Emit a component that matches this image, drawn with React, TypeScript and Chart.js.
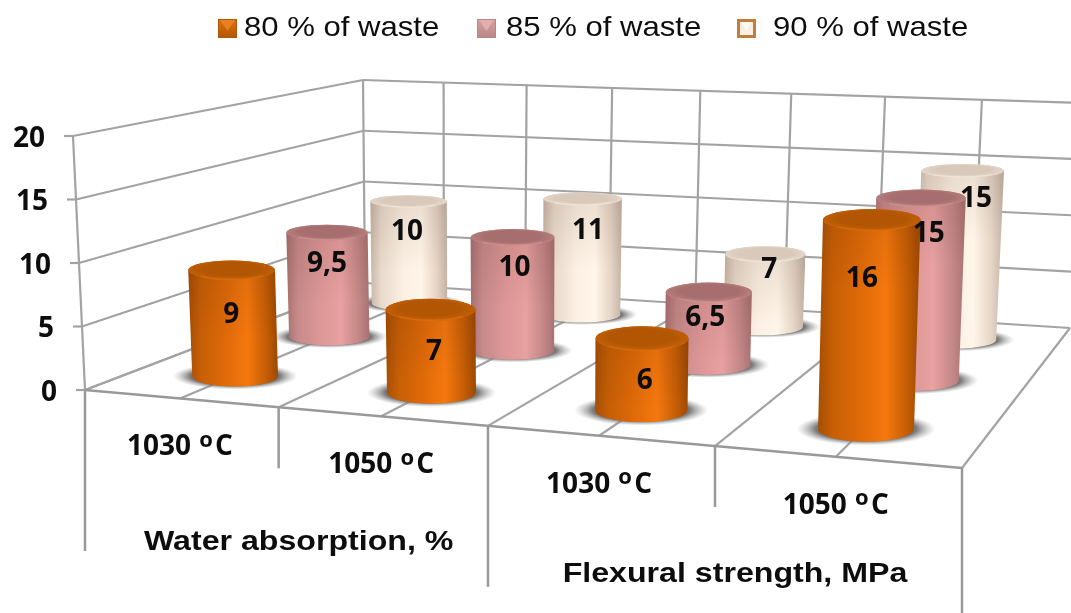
import React, { useEffect, useRef } from "react";
import { Chart, BarController, BarElement, CategoryScale, LinearScale } from "chart.js";

// ---- data ----
const temperatures = ["1030 ºC", "1050 ºC", "1030 ºC", "1050 ºC"];
const properties = ["Water absorption, %", "Flexural strength, MPa"];
const seriesNames = ["80 % of waste", "85 % of waste", "90 % of waste"];
const waste80 = [9, 7, 6, 16];
const waste85 = [9.5, 10, 6.5, 15];
const waste90 = [10, 11, 7, 15];
const valueTicks = [0, 5, 10, 15, 20];

// ---- styling of each series: body gradient, cap, cap rim ----
const bodyStops = [
  ["#a54e04", "#c65f06", "#e06a08", "#f5780e", "#c75f05", "#9c4802"],
  ["#a87070", "#c78a8a", "#dd9797", "#e8a0a0", "#c58888", "#a87272"],
  ["#c8b6a6", "#e8d9cb", "#fbf0e3", "#fff5e8", "#e5d5c6", "#c4b3a4"],
];
const stopAt = [0, 0.14, 0.42, 0.66, 0.86, 1];
const capCore = ["#b25604", "#a66e6e", "#d9c9ba"];
const capEdge = ["#c46006", "#bb8080", "#e6d9cb"];
const capRim = ["#e8760e", "#dc9c9c", "#f8ede0"];
const markerEdge = ["#b05604", "#b98686", "#c47c38"];
const markerFace = ["#e0720f", "#d6a0a0", "#f3e6da"];
const markerGlow = ["#ea8120", "#e4aeae", "#fffaf4"];
const markerBorder = [1, 1, 3];
const legendMarkerX = [218, 477, 737];
const legendTextX = [244, 506, 773];

// Nudges of the value captions from the middle of each cylinder.
const captionNudge = [
  [[-2, -5], [3, 4], [3, 10], [-7, -43]],
  [[-1, -18], [2, -23], [-3, -7], [11, -53]],
  [[-2, -18], [6, -23], [5, -17], [17, -54]],
];
const groupCaptionDrop = [135, 129];

// ---- perspective frame: corners as [front-left, front-right, back-right, back-left] ----
type Pt = [number, number];
const floorQuad: Pt[] = [[85, 390], [962, 468], [1070, 328], [365, 283]];
const wallRise: Pt[] = [[-12, -254], [9, -278], [12, -225], [-2, -203]];
const HALF_U = 0.054;
const HALF_W = 0.08;
const GRID = "#a3a3a3";
const SANS = "'Liberation Sans', Arial, sans-serif";
const SEMI = "'Open Sans', sans-serif";

function homography(q: Pt[]) {
  const [[x0, y0], [x1, y1], [x2, y2], [x3, y3]] = q;
  const dx1 = x1 - x2, dx2 = x3 - x2, sx = x0 - x1 + x2 - x3;
  const dy1 = y1 - y2, dy2 = y3 - y2, sy = y0 - y1 + y2 - y3;
  const den = dx1 * dy2 - dx2 * dy1;
  const g = (sx * dy2 - dx2 * sy) / den;
  const h = (dx1 * sy - sx * dy1) / den;
  const a = x1 - x0 + g * x1, b = x3 - x0 + h * x3;
  const d = y1 - y0 + g * y1, e = y3 - y0 + h * y3;
  return (u: number, w: number): Pt => {
    const k = g * u + h * w + 1;
    return [(a * u + b * w + x0) / k, (d * u + e * w + y0) / k];
  };
}
const onFloor = homography(floorQuad);

// u: along the categories, w: into the depth, t: share of the value axis
function project(u: number, w: number, t: number): Pt {
  const f = onFloor(u, w);
  const rise = [0, 1].map(
    (k) =>
      (1 - w) * ((1 - u) * wallRise[0][k] + u * wallRise[1][k]) +
      w * ((1 - u) * wallRise[3][k] + u * wallRise[2][k])
  );
  return [f[0] + rise[0] * t, f[1] + rise[1] * t];
}

function segment(ctx: CanvasRenderingContext2D, a: Pt, b: Pt, width = 2.2, color = GRID) {
  ctx.beginPath();
  ctx.moveTo(a[0], a[1]);
  ctx.lineTo(b[0], b[1]);
  ctx.lineWidth = width;
  ctx.strokeStyle = color;
  ctx.stroke();
}

function wideText(ctx: CanvasRenderingContext2D, s: string, x: number, y: number, font: string, stretch: number, align: CanvasTextAlign = "center") {
  ctx.save();
  ctx.translate(x, y);
  ctx.scale(stretch, 1);
  ctx.font = font;
  ctx.fillStyle = "#0d0d0d";
  ctx.textAlign = align;
  ctx.textBaseline = "middle";
  ctx.fillText(s, 0, 0);
  ctx.restore();
}

function uOf(chart: any, index: number) {
  const xs = chart.scales.x;
  return (xs.getPixelForValue(index) - xs.left) / xs.width;
}
function tOf(chart: any, value: number) {
  const ys = chart.scales.y;
  return (ys.bottom - ys.getPixelForValue(value)) / ys.height;
}
const depthOf = (datasetIndex: number) => (datasetIndex + 0.5) / 3;
// Cylinders sit a touch off the category centres and widen less than the floor does.
const standU = (u: number) => u + 0.02 * u * (1 - u);
const halfU = (u: number) => HALF_U * (1.08 - 0.16 * u);

// A bar element that paints itself as an upright cylinder standing on the floor plane.
class CylinderElement extends BarElement {
  static id = "cylinder";
  static defaults = { ...(BarElement as any).defaults };
  static defaultRoutes = (BarElement as any).defaultRoutes;

  draw(ctx: CanvasRenderingContext2D) {
    const me = this as any;
    const { chart, dataIndex, datasetIndex } = me.slot;
    const value = chart.scales.y.getValueForPixel(me.y);
    const base = uOf(chart, dataIndex);
    const u = standU(base);
    const du = halfU(base);
    const w = depthOf(datasetIndex);
    const t = tOf(chart, value);

    const ellipseAt = (tt: number) => {
      const c = project(u, w, tt);
      const l = project(u - du, w, tt), r = project(u + du, w, tt);
      const n = project(u, w - HALF_W, tt), f = project(u, w + HALF_W, tt);
      return { c, rx: (r[0] - l[0]) / 2, ry: Math.abs(n[1] - f[1]) / 2 };
    };
    const bottom = ellipseAt(0);
    const top = ellipseAt(t);
    // the bevelled cap sits slightly below the nominal top and reads a little rounder
    top.c = [top.c[0], top.c[1] + 8 - 5 * t];
    top.ry *= 1.15;

    // soft cast shadow on the floor
    ctx.save();
    ctx.translate(bottom.c[0], bottom.c[1]);
    ctx.scale(bottom.rx * 1.45, bottom.ry * 1.3);
    const sh = ctx.createRadialGradient(0, 0, 0, 0, 0, 1);
    sh.addColorStop(0, "rgba(95,95,95,0.95)");
    sh.addColorStop(0.72, "rgba(105,105,105,0.9)");
    sh.addColorStop(1, "rgba(170,170,170,0)");
    ctx.fillStyle = sh;
    ctx.beginPath();
    ctx.arc(0, 0, 1, 0, Math.PI * 2);
    ctx.fill();
    ctx.restore();

    // body
    const x0 = Math.min(top.c[0] - top.rx, bottom.c[0] - bottom.rx);
    const x1 = Math.max(top.c[0] + top.rx, bottom.c[0] + bottom.rx);
    const grad = ctx.createLinearGradient(x0, 0, x1, 0);
    bodyStops[datasetIndex].forEach((col, i) => grad.addColorStop(stopAt[i], col));
    ctx.beginPath();
    ctx.moveTo(top.c[0] - top.rx, top.c[1]);
    ctx.lineTo(bottom.c[0] - bottom.rx, bottom.c[1]);
    ctx.ellipse(bottom.c[0], bottom.c[1], bottom.rx, bottom.ry, 0, Math.PI, 0, true);
    ctx.lineTo(top.c[0] + top.rx, top.c[1]);
    ctx.ellipse(top.c[0], top.c[1], top.rx, top.ry, 0, 0, Math.PI, true);
    ctx.closePath();
    ctx.fillStyle = grad;
    ctx.fill();
    // gentle darkening towards the top of the body
    const fade = ctx.createLinearGradient(0, top.c[1], 0, top.c[1] + 70);
    fade.addColorStop(0, "rgba(60,20,10,0.10)");
    fade.addColorStop(1, "rgba(60,20,10,0)");
    ctx.fillStyle = fade;
    ctx.fill();

    // cap with a lighter bevelled rim along its front
    ctx.save();
    ctx.translate(top.c[0], top.c[1]);
    ctx.scale(top.rx, top.ry);
    const cap = ctx.createRadialGradient(0, -0.1, 0, 0, -0.1, 1.05);
    cap.addColorStop(0, capCore[datasetIndex]);
    cap.addColorStop(0.65, capCore[datasetIndex]);
    cap.addColorStop(1, capEdge[datasetIndex]);
    ctx.fillStyle = cap;
    ctx.beginPath();
    ctx.arc(0, 0, 1, 0, Math.PI * 2);
    ctx.fill();
    ctx.restore();
    ctx.beginPath();
    ctx.ellipse(top.c[0], top.c[1], top.rx - 3, top.ry - 0.5, 0, 0.7, Math.PI - 0.7);
    ctx.strokeStyle = capRim[datasetIndex];
    ctx.lineWidth = 1.5;
    ctx.globalAlpha = 0.5;
    ctx.stroke();
    ctx.globalAlpha = 1;
  }
}

class CylinderController extends BarController {
  static id = "cylinder3d";
  static defaults = { ...(BarController as any).defaults, dataElementType: "cylinder" };
  static overrides = (BarController as any).overrides;

  draw() {
    const me = this as any;
    me._cachedMeta.data.forEach((el: any, dataIndex: number) => {
      el.slot = { chart: me.chart, dataIndex, datasetIndex: me.index };
    });
    super.draw();
  }
}

Chart.register(CategoryScale, LinearScale, CylinderElement as any, CylinderController as any);

function legendMarker(ctx: CanvasRenderingContext2D, x: number, d: number) {
  const y = 19, s = 19, b = markerBorder[d];
  ctx.fillStyle = markerEdge[d];
  ctx.fillRect(x, y, s, s);
  const face = ctx.createLinearGradient(0, y, 0, y + s);
  face.addColorStop(0, markerFace[d]);
  face.addColorStop(1, d === 2 ? "#fdf6ee" : markerEdge[d]);
  ctx.fillStyle = face;
  ctx.fillRect(x + b, y + b, s - 2 * b, s - 2 * b);
  ctx.fillStyle = markerGlow[d];
  ctx.beginPath();
  ctx.moveTo(x + b + 1, y + b);
  ctx.lineTo(x + s - b - 1, y + b);
  ctx.lineTo(x + s / 2, y + s * 0.62);
  ctx.closePath();
  ctx.fill();
}

// Draws the walls, floor and every axis caption in the projected frame.
const framePlugin = {
  id: "perspectiveFrame",
  beforeDatasetsDraw(chart: any) {
    const ctx: CanvasRenderingContext2D = chart.ctx;
    ctx.save();
    ctx.lineCap = "butt";

    valueTicks.forEach((tick) => {
      const t = tOf(chart, tick);
      const fl = project(0, 0, t), bl = project(0, 1, t), br = project(1, 1, t);
      segment(ctx, fl, bl);
      segment(ctx, bl, br);
      segment(ctx, [fl[0] - 9, fl[1]], fl);
      wideText(ctx, String(tick), fl[0] - 28, fl[1] + 3, `700 28px ${SEMI}`, 1, "right");
    });
    segment(ctx, project(0, 0, 0), project(0, 0, 1));

    for (let i = 0; i <= 8; i++) {
      const u = i / 8;
      if (i < 8) segment(ctx, project(u, 1, 0), project(u, 1, 1));
      segment(ctx, project(u, 0, 0), project(u, 1, 0));
    }
    segment(ctx, project(0, 0, 0), project(1, 0, 0), 2.5, "#999999");

    // drop lines separating the categories and the groups below the front edge
    for (let i = 0; i <= 4; i++) {
      const p = project(i / 4, 0, 0);
      segment(ctx, p, [p[0], p[1] + (i % 2 === 0 ? 161 : 61)], 2.5, "#999999");
    }

    temperatures.forEach((label, i) => {
      const p = project(uOf(chart, i), 0, 0);
      const [num, unit] = label.split(" ");
      const cy = p[1] + 49;
      wideText(ctx, num, p[0] - 21, cy, `700 28px ${SEMI}`, 1);
      wideText(ctx, "o", p[0] + 26, cy - 7, `700 22px ${SEMI}`, 1);
      wideText(ctx, unit[1], p[0] + 44, cy, `700 28px ${SEMI}`, 1);
    });
    properties.forEach((label, i) => {
      const p = project((i * 2 + 1) / 4, 0, 0);
      wideText(ctx, label, p[0] + 20, p[1] + groupCaptionDrop[i], `700 27px ${SANS}`, 1.19);
    });
    ctx.restore();
  },
  afterDatasetsDraw(chart: any) {
    const ctx: CanvasRenderingContext2D = chart.ctx;
    chart.data.datasets.forEach((ds: any, d: number) => {
      ds.data.forEach((value: number, i: number) => {
        const u = standU(uOf(chart, i));
        const t = tOf(chart, value);
        const mid = project(u, depthOf(d), t / 2);
        const [dx, dy] = captionNudge[d][i];
        wideText(ctx, String(value).replace(".", ","), mid[0] + dx, mid[1] + dy, `700 28px ${SEMI}`, 1);
      });
      legendMarker(ctx, legendMarkerX[d], d);
      wideText(ctx, ds.label, legendTextX[d], 28, `400 28px ${SANS}`, 1.11, "left");
    });
  },
};

export default function App() {
  const ref = useRef<HTMLCanvasElement>(null);
  useEffect(() => {
    const chart = new Chart(ref.current as HTMLCanvasElement, {
      type: "cylinder3d" as any,
      data: {
        labels: temperatures,
        datasets: [waste80, waste85, waste90].map((data, i) => ({ label: seriesNames[i], data })),
      },
      options: {
        animation: false,
        responsive: false,
        events: [],
        scales: {
          x: { type: "category", display: false },
          y: { type: "linear", display: false, min: 0, max: 20 },
        },
      } as any,
      plugins: [framePlugin],
    });
    return () => chart.destroy();
  }, []);
  return (
    <canvas
      ref={ref}
      width={1071}
      height={613}
      style={{ position: "absolute", left: 0, top: 0, display: "block", background: "#fff" }}
    />
  );
}
